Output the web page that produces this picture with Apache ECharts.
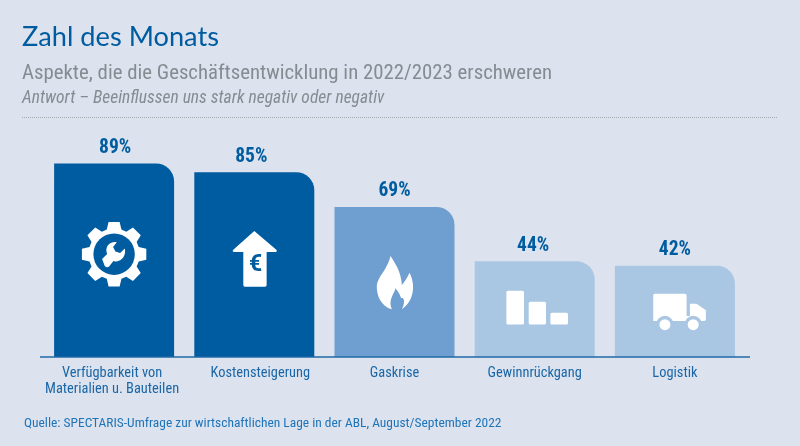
<!DOCTYPE html>
<html><head><meta charset="utf-8">
<style>html,body{margin:0;padding:0;background:#dce3ef}#c{width:800px;height:446px}</style>
<script src="https://cdn.jsdelivr.net/npm/echarts@6/dist/echarts.min.js"></script>
</head><body><div id="c"></div>
<script>
const categories = ['Verfügbarkeit von\nMaterialien u. Bauteilen','Kostensteigerung','Gaskrise','Gewinnrückgang','Logistik'];
const values = [89,85,69,44,42];
const barColors = ['#005ca0','#005ca0','#6f9fd0','#a9c6e2','#a9c6e2'];
const iconNames = ['gear','arrow','flame','bars','truck'];
const iconShift = [-6,-6.5,1,0,0];
const categoryPadding = [[0,4,0,0],[0,0,0,12],[0,0,0,0],[0,0,0,0],[0,0,0,0]];
const valueLabelShift = [1,-3,0,-1.5,0];
const BLUE = '#005ca0', NARROW = '"Roboto Condensed","Liberation Sans",sans-serif';

function gearPath(){
  let d='';
  for(let k=0;k<8;k++){
    const a=k*Math.PI/4-Math.PI/2;
    const pts=[[77,a-0.29],[98,a-0.17],[98,a+0.17],[77,a+0.29]];
    pts.forEach((p,j)=>{
      const x=120+p[0]*Math.cos(p[1]), y=120+p[0]*Math.sin(p[1]);
      d+=(k===0&&j===0?'M':'L')+x.toFixed(1)+','+y.toFixed(1)+' ';
    });
  }
  return d+'Z';
}
const pathEl=(d,fill,ox,oy)=>({type:'path',x:-ox/3,y:-oy/3,scaleX:1/3,scaleY:1/3,shape:{pathData:d},style:{fill}});
const circ=(cx,cy,r,fill)=>({type:'circle',shape:{cx,cy,r},style:{fill}});
const rect=(x,y,width,height)=>({type:'rect',shape:{x,y,width,height,r:1.5},style:{fill:'#fff'}});
const icons={
  gear:c=>[
    pathEl(gearPath(),'#fff',120,120),
    circ(0,0,20.7,c),
    pathEl('M84,134 L99,119 C91,98 106,81 128,84 L117,98 L124,112 L138,116 L152,103 C158,126 138,148 118,140 L105,157 Q98,162 92,155 Z','#fff',120,120)
  ],
  arrow:c=>[
    pathEl('M90,20 L156,76 Q160,82 154,83 L127,83 L127,182 Q127,187 122,187 L62,187 Q57,187 57,182 L57,83 L30,83 Q22,82 27,76 Z','#fff',90,101),
    {type:'text',x:1.2,y:7,style:{text:'€',fill:c,font:'bold 23px "Roboto",sans-serif',textAlign:'center',textVerticalAlign:'middle'}}
  ],
  flame:c=>[
    pathEl('M78,18 C92,40 110,65 112,105 C120,95 128,85 135,68 C152,100 152,150 112,178 C122,160 120,140 110,145 C105,130 100,125 93,115 C88,135 70,150 82,178 C50,170 35,135 37,105 C40,80 68,60 78,18 Z','#fff',90,99)
  ],
  bars:c=>[rect(-28.3,-18.3,17.6,33.6),rect(-6,-7.3,17.3,22.6),rect(15.7,3.7,17.6,11.6)],
  truck:c=>[
    pathEl('M25,30 Q25,25 30,25 L120,25 Q125,25 125,30 L125,92 L135,92 L135,55 L155,55 L183,75 L183,102 Q183,107 178,107 L25,107 Z','#fff',90,78),
    circ(-10,13.3,8.8,c),circ(18.3,13.3,8.8,c),
    circ(-10,13.3,5.5,'#fff'),circ(18.3,13.3,5.5,'#fff')
  ]
};

const chart=echarts.init(document.getElementById('c'));
const titleText=(text,left,top,size,color,extra)=>({text,left,top,padding:0,textStyle:Object.assign({fontSize:size,color,fontWeight:'normal',fontFamily:NARROW},extra||{})});
chart.setOption({
  animation:false,
  backgroundColor:'#dce3ef',
  title:[
    titleText('Zahl des Monats',22,24,27.2,'#005ca0',{fontFamily:'Lato,sans-serif'}),
    titleText('Aspekte, die die Geschäftsentwicklung in 2022/2023 erschweren',22,63,20.8,'#858b91'),
    titleText('Antwort – Beeinflussen uns stark negativ oder negativ',22,90,17.5,'#858b91',{fontStyle:'italic'}),
    titleText('Quelle: SPECTARIS-Umfrage zur wirtschaftlichen Lage in der ABL, August/September 2022',24,417.5,13.45,'#1f74b8')
  ],
  grid:{left:44,width:701,top:139.5,height:217.5,containLabel:false},
  xAxis:{type:'category',
    data:categories.map((value,i)=>({value,textStyle:{padding:categoryPadding[i]}})),
    axisLine:{show:false},axisTick:{show:false},
    axisLabel:{color:'#1a66a6',fontFamily:NARROW,fontSize:14.4,lineHeight:16,margin:8,interval:0}},
  yAxis:{type:'value',min:0,max:100,show:false},
  series:[
    {type:'bar',barWidth:120,silent:true,
     data:values.map((v,i)=>({value:v,itemStyle:{color:barColors[i],borderRadius:[0,18,0,0]},label:{offset:[valueLabelShift[i],0]}})),
     label:{show:true,position:'top',distance:5.5,formatter:'{c}%',color:BLUE,fontFamily:NARROW,fontWeight:'bold',fontSize:19.5}},
    {type:'custom',silent:true,z:5,clip:false,
     data:values.map((v,i)=>[i,v]),
     renderItem(params,api){
       const i=api.value(0), p=api.coord([i,api.value(1)/2]);
       return {type:'group',x:p[0],y:p[1]+iconShift[i],children:icons[iconNames[i]](barColors[i])};
     }}
  ],
  graphic:[
    {type:'line',shape:{x1:22,y1:117.5,x2:778,y2:117.5},style:{stroke:'#a4a9ae',lineWidth:1,lineDash:[1,1]},z:1},
    {type:'line',shape:{x1:40,y1:357,x2:750,y2:357},style:{stroke:'#2069a6',lineWidth:1.6},z:10}
  ]
});
</script></body></html>
